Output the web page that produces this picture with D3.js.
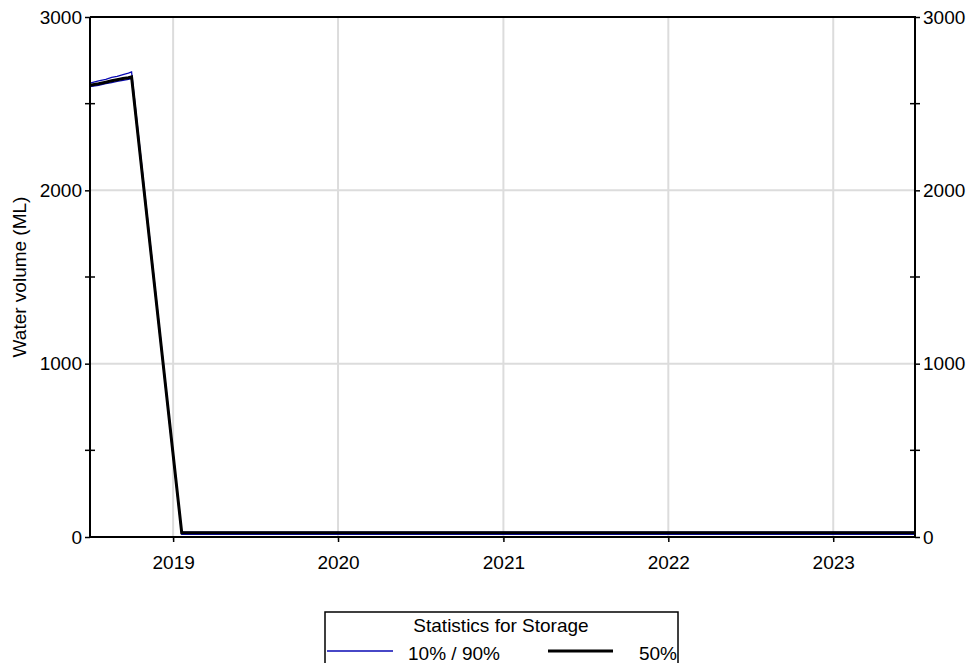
<!DOCTYPE html>

<head>
  <meta charset="utf-8">
  <title>Statistics for Storage</title>
  <style>
    body { margin: 0; background: #fff; }
    text { font-family: "Liberation Sans", Arial, sans-serif; fill: #000; }
    .grid { stroke: #dcdcdc; stroke-width: 2; }
    .axisline { stroke: #000; stroke-width: 2; fill: none; }
    .band { fill: none; stroke: #0a0ab4; stroke-width: 1.3; }
    .median { fill: none; stroke: #000; stroke-width: 3; }
  </style>
</head>

<body>
  <div id="chart"></div>

  <script src="https://d3js.org/d3.v7.min.js"></script>

  <script>
    // data
    let dates = ['2018-07-01', '2018-07-20', '2018-08-05', '2018-08-18', '2018-08-30',
      '2018-09-12', '2018-09-24', '2018-10-01', '2019-01-20', '2023-07-01'];
    let p10 = [2598, 2606, 2615, 2622, 2628, 2635, 2640, 2645, 15, 15];
    let p50 = [2606, 2615, 2624, 2632, 2638, 2645, 2650, 2655, 25, 25];
    let p90 = [2619, 2632, 2640, 2652, 2658, 2668, 2676, 2683, 28, 28];
    let yearTicks = [2019, 2020, 2021, 2022, 2023];
    let yMajor = [0, 1000, 2000, 3000];
    let yMinor = [500, 1500, 2500];

    let margin = { top: 17, right: 58, bottom: 126, left: 90 },
      width = 973 - margin.left - margin.right,
      height = 663 - margin.top - margin.bottom;

    let svg = d3.select('#chart')
      .append('svg')
      .attr('width', 973)
      .attr('height', 663);

    let g = svg.append('g')
      .attr('transform', `translate(${margin.left}, ${margin.top})`);

    let parse = d3.timeParse('%Y-%m-%d');

    //x scale
    let x = d3.scaleTime()
      .domain([parse('2018-07-01'), parse('2023-07-01')])
      .range([0, width]);

    //y scale
    let y = d3.scaleLinear()
      .domain([0, 3000])
      .range([height, 0]);

    let yearDates = yearTicks.map(yr => new Date(yr, 0, 1));

    // grid
    g.selectAll('.vgrid')
      .data(yearDates)
      .join('line')
      .attr('class', 'grid')
      .attr('x1', d => x(d)).attr('x2', d => x(d))
      .attr('y1', 0).attr('y2', height + 3);

    g.selectAll('.hgrid')
      .data([1000, 2000])
      .join('line')
      .attr('class', 'grid')
      .attr('x1', 0).attr('x2', width)
      .attr('y1', d => y(d)).attr('y2', d => y(d));

    // series
    let toPoints = vals => dates.map((d, i) => ({ date: parse(d), v: vals[i] }));

    let line = d3.line()
      .x(d => x(d.date))
      .y(d => y(d.v));

    g.append('path').datum(toPoints(p10)).attr('class', 'band').attr('d', line);
    g.append('path').datum(toPoints(p90)).attr('class', 'band').attr('d', line);
    g.append('path').datum(toPoints(p50)).attr('class', 'median').attr('d', line);

    // frame
    g.append('path')
      .attr('class', 'axisline')
      .attr('d', `M0,0V${height}H${width}V0H0`);

    // bottom axis
    let xAxis = g.append('g')
      .attr('transform', `translate(0, ${height})`)
      .call(d3.axisBottom(x).tickValues(yearDates).tickFormat(d3.timeFormat('%Y')).tickSize(5).tickPadding(14));
    xAxis.select('.domain').remove();
    xAxis.selectAll('text').style('font-size', '19px');
    xAxis.selectAll('line').attr('stroke-width', 1.5);

    // left and right axes
    let yLeft = g.append('g')
      .call(d3.axisLeft(y).tickValues(yMajor).tickFormat(d3.format('d')).tickSize(5).tickPadding(3));
    let yRight = g.append('g')
      .attr('transform', `translate(${width}, 0)`)
      .call(d3.axisRight(y).tickValues(yMajor).tickFormat(d3.format('d')).tickSize(5).tickPadding(3));
    [yLeft, yRight].forEach(a => {
      a.select('.domain').remove();
      a.selectAll('text').style('font-size', '19px');
      a.selectAll('line').attr('stroke-width', 1.5);
    });

    [0, width].forEach(xx => {
      g.selectAll(null)
        .data(yMinor)
        .join('line')
        .attr('x1', xx - 5).attr('x2', xx + 5)
        .attr('y1', d => y(d)).attr('y2', d => y(d))
        .attr('stroke', '#000').attr('stroke-width', 1.5);
    });

    // y title
    svg.append('text')
      .attr('transform', `translate(26, ${margin.top + height / 2}) rotate(-90)`)
      .attr('text-anchor', 'middle')
      .style('font-size', '19px')
      .text('Water volume (ML)');

    // legend
    let lg = svg.append('g').attr('transform', 'translate(325, 612)');
    lg.append('rect')
      .attr('width', 353).attr('height', 70)
      .attr('fill', '#fff').attr('stroke', '#000').attr('stroke-width', 1.5);
    lg.append('text')
      .attr('x', 176).attr('y', 20)
      .attr('text-anchor', 'middle')
      .style('font-size', '19px')
      .text('Statistics for Storage');
    lg.append('line').attr('class', 'band')
      .attr('x1', 2).attr('x2', 68).attr('y1', 39).attr('y2', 39);
    lg.append('text')
      .attr('x', 129).attr('y', 48)
      .attr('text-anchor', 'middle')
      .style('font-size', '19px')
      .text('10% / 90%');
    lg.append('line').attr('class', 'median')
      .attr('x1', 223).attr('x2', 288).attr('y1', 39).attr('y2', 39);
    lg.append('text')
      .attr('x', 352).attr('y', 48)
      .attr('text-anchor', 'end')
      .style('font-size', '19px')
      .text('50%');
  </script>
</body>

</html>
